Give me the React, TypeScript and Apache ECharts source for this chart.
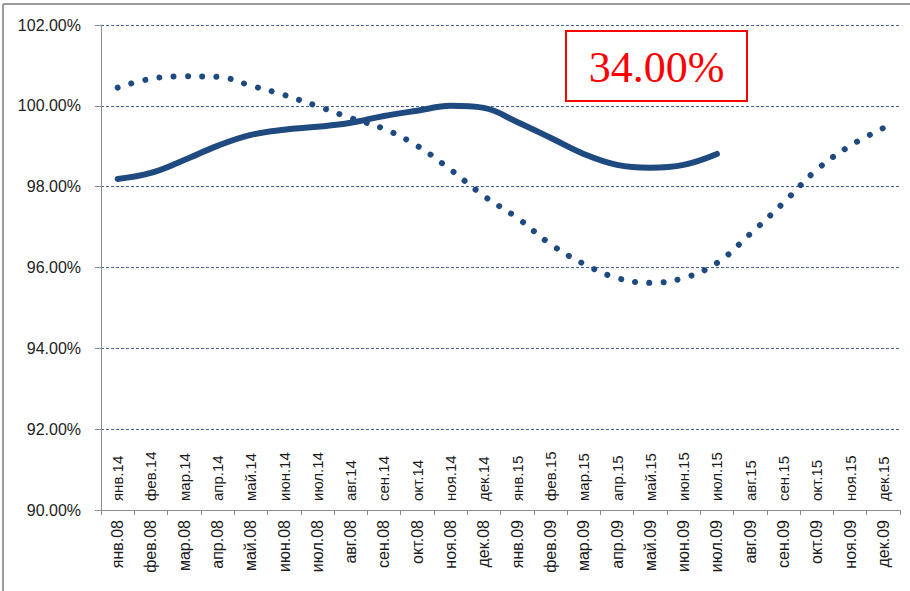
import React, { useEffect, useRef } from "react";
import * as echarts from "echarts";

const outerCategories = [
  "янв.08", "фев.08", "мар.08", "апр.08", "май.08", "июн.08", "июл.08", "авг.08", "сен.08", "окт.08", "ноя.08", "дек.08",
  "янв.09", "фев.09", "мар.09", "апр.09", "май.09", "июн.09", "июл.09", "авг.09", "сен.09", "окт.09", "ноя.09", "дек.09",
];
const innerCategories = [
  "янв.14", "фев.14", "мар.14", "апр.14", "май.14", "июн.14", "июл.14", "авг.14", "сен.14", "окт.14", "ноя.14", "дек.14",
  "янв.15", "фев.15", "мар.15", "апр.15", "май.15", "июн.15", "июл.15", "авг.15", "сен.15", "окт.15", "ноя.15", "дек.15",
];
const solidValues = [
  98.19, 98.34, 98.66, 99.01, 99.28, 99.41, 99.48, 99.58, 99.75, 99.88, 100.0, 99.95,
  99.6, 99.21, 98.81, 98.54, 98.47, 98.54, 98.81,
];
const dottedValues = [
  100.45, 100.67, 100.73, 100.72, 100.5, 100.27, 99.99, 99.7, 99.43, 99.01, 98.42, 97.77,
  97.23, 96.58, 96.09, 95.74, 95.62, 95.74, 96.11, 96.83, 97.6, 98.42, 99.01, 99.45,
];
const boxLabel = "34.00%";

const BLUE = "#1F4A80";
const AXIS_GRAY = "#8c8c8c";

export default function App() {
  const ref = useRef<HTMLDivElement>(null);
  useEffect(() => {
    if (!ref.current) return;
    const chart = echarts.init(ref.current, null, { renderer: "svg" });
    chart.setOption({
      animation: false,
      backgroundColor: "#ffffff",
      grid: { left: 101, right: 10, top: 25, bottom: 81, containLabel: false },
      xAxis: [
        {
          type: "category",
          data: outerCategories,
          position: "bottom",
          boundaryGap: true,
          axisLine: { show: true, lineStyle: { color: AXIS_GRAY, width: 1 } },
          axisTick: { show: true, length: 5, lineStyle: { color: AXIS_GRAY } },
          axisLabel: {
            rotate: 90,
            margin: 10,
            interval: 0,
            fontFamily: "Liberation Sans, Arial, sans-serif",
            fontSize: 16,
            color: "#1a1a1a",
          },
          splitLine: { show: false },
        },
        {
          type: "category",
          data: innerCategories,
          position: "bottom",
          boundaryGap: true,
          axisLine: { show: false },
          axisTick: { show: false },
          axisLabel: {
            inside: true,
            rotate: 90,
            margin: 9,
            interval: 0,
            fontFamily: "Liberation Sans, Arial, sans-serif",
            fontSize: 15,
            color: "#1a1a1a",
          },
          splitLine: { show: false },
        },
      ],
      yAxis: {
        type: "value",
        min: 90,
        max: 102,
        interval: 2,
        axisLine: { show: true, lineStyle: { color: AXIS_GRAY, width: 1 } },
        axisTick: { show: true, length: 6, lineStyle: { color: AXIS_GRAY } },
        axisLabel: {
          margin: 20,
          fontFamily: "Liberation Sans, Arial, sans-serif",
          fontSize: 16,
          color: "#222222",
          formatter: (v: number) => v.toFixed(2) + "%",
        },
        splitLine: {
          show: true,
          lineStyle: { color: "#3f639a", width: 1, type: [3, 2] },
        },
      },
      series: [
        {
          type: "line",
          name: "dotted",
          xAxisIndex: 0,
          data: dottedValues,
          smooth: 0.4,
          showSymbol: false,
          symbol: "none",
          lineStyle: { color: BLUE, width: 6, type: [0.01, 14.3], cap: "round" },
        },
        {
          type: "line",
          name: "solid",
          xAxisIndex: 0,
          data: solidValues,
          smooth: 0.4,
          showSymbol: false,
          symbol: "none",
          lineStyle: { color: BLUE, width: 6, cap: "round" },
        },
      ],
      graphic: [
        {
          type: "line",
          shape: { x1: 3, y1: 4, x2: 910, y2: 4 },
          style: { stroke: "#9a9a9a", lineWidth: 2 },
          silent: true,
        },
        {
          type: "line",
          shape: { x1: 3, y1: 4, x2: 3, y2: 591 },
          style: { stroke: "#9a9a9a", lineWidth: 2 },
          silent: true,
        },
        {
          type: "rect",
          shape: { x: 566, y: 31, width: 181, height: 70 },
          style: { fill: "#ffffff", stroke: "#ff0000", lineWidth: 2 },
          silent: true,
        },
        {
          type: "text",
          x: 656.5,
          y: 67,
          style: {
            text: boxLabel,
            fill: "#ff0000",
            font: "44px 'Liberation Serif', 'DejaVu Serif', serif",
            textAlign: "center",
            textVerticalAlign: "middle",
          },
          silent: true,
        },
      ],
    });
    return () => chart.dispose();
  }, []);
  return (
    <div
      ref={ref}
      style={{ position: "fixed", left: 0, top: 0, width: 910, height: 591 }}
    />
  );
}
